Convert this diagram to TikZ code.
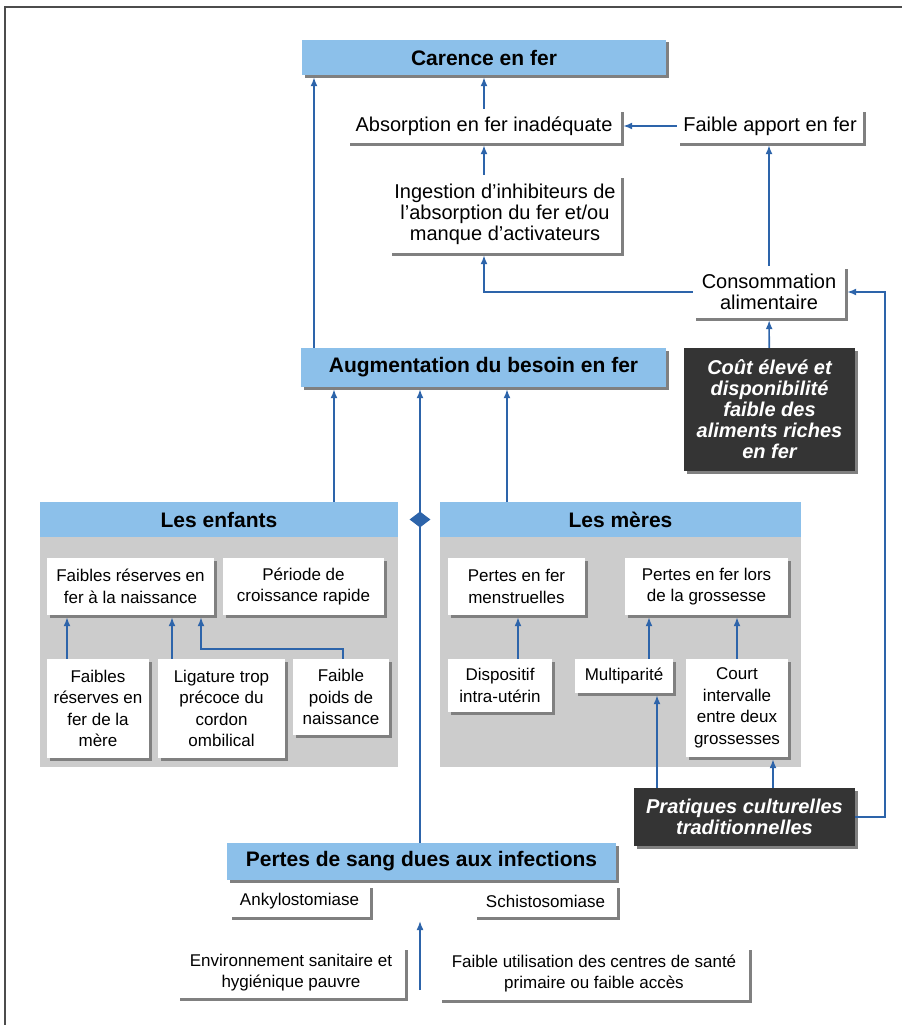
\documentclass[tikz,border=0pt]{standalone}
\usepackage{fontspec}
\setmainfont{Liberation Sans}
\usetikzlibrary{arrows.meta,shadows,shapes.geometric}

\definecolor{hdrblue}{RGB}{140,192,234}
\definecolor{arrblue}{RGB}{45,100,170}
\definecolor{panelgray}{RGB}{204,204,204}
\definecolor{boxdark}{RGB}{52,52,52}

\tikzset{
  boxshadow/.style={drop shadow={shadow xshift=2.5pt,shadow yshift=-2.5pt,fill=black!50,opacity=1}},
  plainbox/.style={fill=white,inner sep=0pt,align=center,boxshadow,
    font=\fontsize{20}{21}\selectfont},
  smallbox/.style={plainbox,font=\fontsize{17}{21.5}\selectfont},
  bluebox/.style={fill=hdrblue,inner sep=0pt,align=center,
    font=\bfseries\fontsize{21}{23}\selectfont},
  blackbox/.style={plainbox,fill=boxdark,text=white,
    font=\bfseries\itshape\fontsize{20}{21}\selectfont},
  panelbg/.style={fill=panelgray,inner sep=0pt},
  arr/.style={arrblue,line width=1.6pt,shorten >=2pt,-{Latex[length=9pt,width=7pt]}},
}

\begin{document}
\begin{tikzpicture}[x=1pt,y=-1pt]
    \useasboundingbox (0,0) rectangle (902,1025);
    \draw[black!70,line width=1.4pt] (5,1025) -- (5,7) -- (902,7);

    % haut du schema
    \node[bluebox,boxshadow,minimum width=364,minimum height=35] (carence) at (484,57.5) {Carence en fer};
    \node[plainbox,minimum width=274,minimum height=34] (absorb) at (484,126) {Absorption en fer inadéquate};
    \node[plainbox,minimum width=186,minimum height=34] (apport) at (770,126) {Faible apport en fer};
    \node[plainbox,minimum width=232,minimum height=78] (ingest) at (505,214)
        {Ingestion d'inhibiteurs de\\l'absorption du fer et/ou\\manque d'activateurs};
    \node[plainbox,minimum width=152,minimum height=52] (conso) at (769,292) {Consommation\\alimentaire};
    \node[blackbox,minimum width=171,minimum height=123] (cout) at (769.5,409.5)
        {Coût élevé et\\disponibilité\\faible des\\aliments riches\\en fer};
    \node[bluebox,boxshadow,minimum width=365,minimum height=39] (augment) at (483.5,367.5) {Augmentation du besoin en fer};

    % les enfants
    \node[panelbg,minimum width=358,minimum height=265] (enfpanel) at (219,634.5) {};
    \node[bluebox,minimum width=358,minimum height=35,anchor=north] (enfhead) at (enfpanel.north) {Les enfants};
    \node[smallbox,minimum width=167,minimum height=57] (naiss) at (130.5,586.5) {Faibles réserves en\\fer à la naissance};
    \node[smallbox,minimum width=161,minimum height=57] (croiss) at (303.5,586.5) {Période de\\croissance rapide};
    \node[smallbox,minimum width=102,minimum height=99] (mere) at (98,708.5) {Faibles\\réserves en\\fer de la\\mère};
    \node[smallbox,minimum width=127,minimum height=99] (ligat) at (221.5,708.5) {Ligature trop\\précoce du\\cordon\\ombilical};
    \node[smallbox,minimum width=96,minimum height=76] (poids) at (341,697) {Faible\\poids de\\naissance};

    % les meres
    \node[panelbg,minimum width=361,minimum height=265] (merpanel) at (620.5,634.5) {};
    \node[bluebox,minimum width=361,minimum height=35,anchor=north] (merhead) at (merpanel.north) {Les mères};
    \node[smallbox,minimum width=137,minimum height=57] (menstr) at (516.5,586.5) {Pertes en fer\\menstruelles};
    \node[smallbox,minimum width=163,minimum height=57] (gross) at (706.5,586.5) {Pertes en fer lors\\de la grossesse};
    \node[smallbox,minimum width=104,minimum height=53] (diu) at (500,685.5) {Dispositif\\intra-utérin};
    \node[smallbox,minimum width=98,minimum height=34] (multi) at (624,676) {Multiparité};
    \node[smallbox,minimum width=102,minimum height=98] (court) at (737,708) {Court\\intervalle\\entre deux\\grossesses};
    \node[blackbox,minimum width=221,minimum height=58] (prat) at (744.5,817) {Pratiques culturelles\\traditionnelles};

    % bas du schema
    \node[bluebox,boxshadow,minimum width=389,minimum height=37] (sang) at (421.5,861.5) {Pertes de sang dues aux infections};
    \node[smallbox,minimum width=141,minimum height=32] (ankylo) at (299.5,901) {Ankylostomiase};
    \node[smallbox,minimum width=143,minimum height=32] (schisto) at (545.5,901) {Schistosomiase};
    \node[smallbox,minimum width=228,minimum height=51] (envir) at (291,972.5) {Environnement sanitaire et\\hygiénique pauvre};
    \node[smallbox,minimum width=310,minimum height=53] (acces) at (594,973.5) {Faible utilisation des centres de santé\\primaire ou faible accès};

    \coordinate (xl) at (314,0);
    \coordinate (xe) at (334,0);
    \coordinate (xs) at (420,0);
    \coordinate (xm) at (507,0);
    \coordinate (bstart) at (420,990);
    \coordinate (bend) at (420,919);

    % fleches du haut
    \draw[arr] (absorb) -- (carence);
    \draw[arr] (absorb |- ingest.north) -- (absorb.south);
    \draw[arr] (apport) -- (absorb);
    \draw[arr] (conso) -- (conso |- apport.south);
    \draw[arr] (conso.west) -| (absorb |- ingest.south);
    \draw[arr] (cout) -- (conso);
    \draw[arr] (prat.east) -- ++(30,0) |- (conso.east);
    \draw[arr] (xl |- augment.north) -- (xl |- carence.south);
    \draw[arr] (xe |- enfhead.north) -- (xe |- augment.south);
    \draw[arr] (xm |- merhead.north) -- (xm |- augment.south);
    \draw[arr] (xs |- sang.north) -- (xs |- augment.south);
    \node[diamond,aspect=1.3,fill=arrblue,minimum width=21pt,minimum height=16pt,inner sep=0pt] (diam) at (xs |- enfhead) {};

    % fleches des enfants
    \coordinate (e1) at (67,0);
    \coordinate (e2) at (172,0);
    \coordinate (e3) at (343,0);
    \coordinate (e4) at (201,0);
    \draw[arr] (e1 |- mere.north) -- (e1 |- naiss.south);
    \draw[arr] (e2 |- ligat.north) -- (e2 |- naiss.south);
    \draw[arr] (e3 |- poids.north) -- ++(0,-10) -| (e4 |- naiss.south);

    % fleches des meres
    \coordinate (m1) at (518,0);
    \coordinate (m2) at (649,0);
    \coordinate (m3) at (737,0);
    \coordinate (m4) at (657,0);
    \coordinate (m5) at (773,0);
    \draw[arr] (m1 |- diu.north) -- (m1 |- menstr.south);
    \draw[arr] (m2 |- multi.north) -- (m2 |- gross.south);
    \draw[arr] (m3 |- court.north) -- (m3 |- gross.south);
    \draw[arr] (m4 |- prat.north) -- (m4 |- multi.south);
    \draw[arr] (m5 |- prat.north) -- (m5 |- court.south);

    \draw[arr] (bstart) -- (bend);
\end{tikzpicture}
\end{document}
